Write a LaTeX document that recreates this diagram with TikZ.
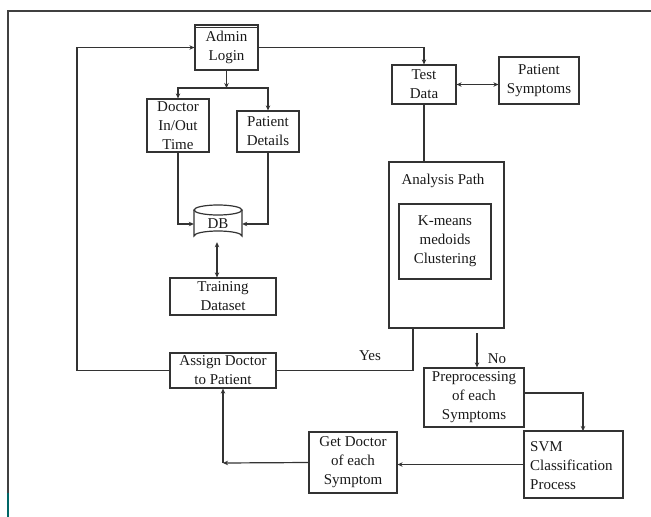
\documentclass[tikz,border=0pt]{standalone}
\usepackage{fontspec}
\setmainfont{Liberation Serif}
\usetikzlibrary{arrows.meta}
\begin{document}
\begin{tikzpicture}[x=1pt,y=-1pt,
 box/.style={draw=black!80, line width=1.2pt, inner sep=0pt, align=center, font=\fontsize{15}{19}\selectfont, text=black!90},
 lbl/.style={inner sep=0pt, align=left, font=\fontsize{15}{19}\selectfont, text=black!90},
 conn/.style={draw=black!80, line width=1.2pt},
 arr/.style={conn, -{Stealth[length=5pt,width=4.5pt]}},
 darr/.style={conn, {Stealth[length=5pt,width=4.5pt]}-{Stealth[length=5pt,width=4.5pt]}}]
\useasboundingbox (0,0) rectangle (651,517);
% frame
\draw[line width=1.6pt, black!75] (651,11) -- (8,11) -- (8,493);
\draw[line width=1.6pt, teal!80!black] (8,493) -- (8,517);
% nodes
\node[box, minimum width=63pt, minimum height=45pt] (admin) at (226.5,47.5) {Admin\\Login};
\draw[conn] (195,27.5) -- (258,27.5);
\node[box, minimum width=62pt, minimum height=53pt] (doctor) at (178,125.5) {Doctor\\In/Out\\Time};
\node[box, minimum width=62pt, minimum height=41pt] (pdet) at (268,131.5) {Patient\\Details};
\node[inner sep=0pt, minimum width=48pt, minimum height=36pt, font=\fontsize{15}{19}\selectfont, text=black!90] (db) at (218,224) {DB};
\draw[conn] (194,210) -- (194,236) arc[start angle=180, end angle=360, x radius=24pt, y radius=-5pt] -- (242,210);
\draw[conn] (218,210) ellipse[x radius=24pt, y radius=5pt];
\node[box, minimum width=106pt, minimum height=37pt] (train) at (223,296.5) {Training\\Dataset};
\node[box, minimum width=106pt, minimum height=35pt] (assign) at (223,370.5) {Assign Doctor\\to Patient};
\node[box, minimum width=64pt, minimum height=39pt] (test) at (424,84.5) {Test\\Data};
\node[box, minimum width=80pt, minimum height=47pt] (psym) at (539,80.5) {Patient\\Symptoms};
\node[box, minimum width=115pt, minimum height=166pt] (analysis) at (446.5,245) {};
\node[lbl] (atitle) at (443,181) {Analysis Path};
\node[box, minimum width=92pt, minimum height=75pt] (kmeans) at (445,241.5) {K-means\\medoids\\Clustering};
\node[box, minimum width=100pt, minimum height=59pt] (pre) at (474,397.5) {Preprocessing\\of each\\Symptoms};
\node[box, minimum width=99pt, minimum height=67pt] (svm) at (573.5,464.5) {};
\node[lbl, anchor=west] (svmtext) at (530,466) {SVM\\Classification\\Process};
\node[box, minimum width=88pt, minimum height=61pt] (getdoc) at (353,462.5) {Get Doctor\\of each\\Symptom};
% coordinates
\coordinate (j1) at (226.5,88);
\coordinate (lc) at (77,370.5);
\coordinate (yc) at (413,370.5);
\coordinate (nc) at (477,333);
\coordinate (sv) at (583,431);
\coordinate (gc) at (223,463);
% connectors
\draw[arr] (admin.south) -- (j1);
\draw[arr] (j1) -| (doctor.north);
\draw[arr] (j1) -| (pdet.north);
\draw[arr] (doctor.south) |- (db.west);
\draw[arr] (pdet.south) |- (db.east);
\draw[darr] ([xshift=-1pt]db.south) -- ([xshift=-1pt]db.south |- train.north);
\draw[arr] (assign.west) -- (lc) |- (admin.west);
\draw[conn] (assign.east) -- (yc) -- (yc |- analysis.south);
\node[lbl] (yes) at (370,356) {Yes};
\draw[arr] (admin.east) -| (test.north);
\draw[darr] (test.east) -- (test.east -| psym.west);
\draw[conn] (test.south) -- (test.south |- analysis.north);
\draw[arr] (nc) -- (nc |- pre.north);
\node[lbl] (no) at (497,359) {No};
\draw[arr] ([yshift=4.5pt]pre.east) -| (sv);
\draw[arr] (svm.west) -- (svm.west -| getdoc.east);
\draw[arr] (getdoc.west) -- (gc);
\draw[arr] (gc) -- (assign.south);
\end{tikzpicture}
\end{document}
